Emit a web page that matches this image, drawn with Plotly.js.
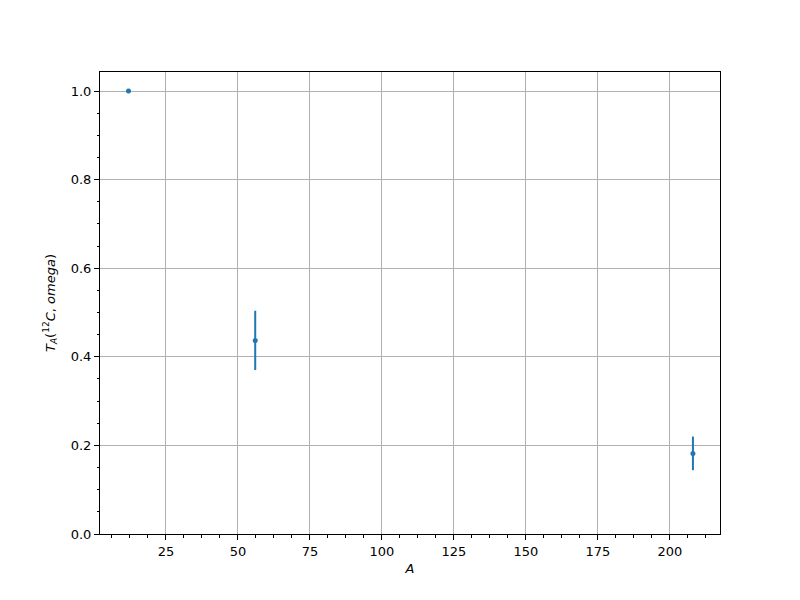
<!DOCTYPE html>
<html>
<head>
<meta charset="utf-8">
<script src="https://cdn.plot.ly/plotly-3.0.1.min.js"></script>
<style>html,body{margin:0;padding:0;background:#fff;}#chart{width:800px;height:600px;}</style>
</head>
<body>
<div id="chart"></div>
<script>
const massNumbers = [12, 56, 208];
const transparency = [1.0, 0.437, 0.182];
const transparencyErr = [0.0, 0.067, 0.038];
const xTickVals = [25, 50, 75, 100, 125, 150, 175, 200];
const yTickVals = [0.0, 0.2, 0.4, 0.6, 0.8, 1.0];

const trace = {
  x: massNumbers,
  y: transparency,
  type: 'scatter',
  mode: 'markers',
  marker: {color: '#1f77b4', size: 5},
  error_y: {type: 'data', array: transparencyErr, visible: true, color: '#1f77b4', thickness: 2, width: 0},
  showlegend: false
};

const axisCommon = {
  showline: true, linecolor: '#000', linewidth: 1, mirror: true,
  ticks: 'outside', ticklen: 5, tickwidth: 1, tickcolor: '#000',
  showgrid: true, gridcolor: '#b0b0b0', gridwidth: 1, zeroline: false,
  tickfont: {family: 'DejaVu Sans', size: 13, color: '#000'}
};

const layout = {
  width: 800, height: 600,
  margin: {l: 100, r: 80, t: 72, b: 66},
  paper_bgcolor: '#fff', plot_bgcolor: '#fff',
  font: {family: 'DejaVu Sans', size: 13, color: '#000'},
  xaxis: Object.assign({}, axisCommon, {
    range: [2.1, 217.4], tickmode: 'array', tickvals: xTickVals,
    minor: {dtick: 6.25, tick0: 0, ticks: 'outside', ticklen: 2.5, tickcolor: '#000', showgrid: false},
    title: {text: '<i>A</i>', font: {family: 'DejaVu Sans', size: 13}, standoff: 6}
  }),
  yaxis: Object.assign({}, axisCommon, {
    range: [0, 1.043], tickmode: 'array', tickvals: yTickVals, tickformat: '.1f',
    minor: {dtick: 0.05, tick0: 0, ticks: 'outside', ticklen: 2.5, tickcolor: '#000', showgrid: false},
    title: {text: '<i>T</i><sub><i>A</i></sub>(<sup>12</sup><i>C</i>, <i>omega</i>)', font: {family: 'DejaVu Sans', size: 13}, standoff: 12}
  })
};

Plotly.newPlot('chart', [trace], layout, {displayModeBar: false, staticPlot: true});
</script>
</body>
</html>
